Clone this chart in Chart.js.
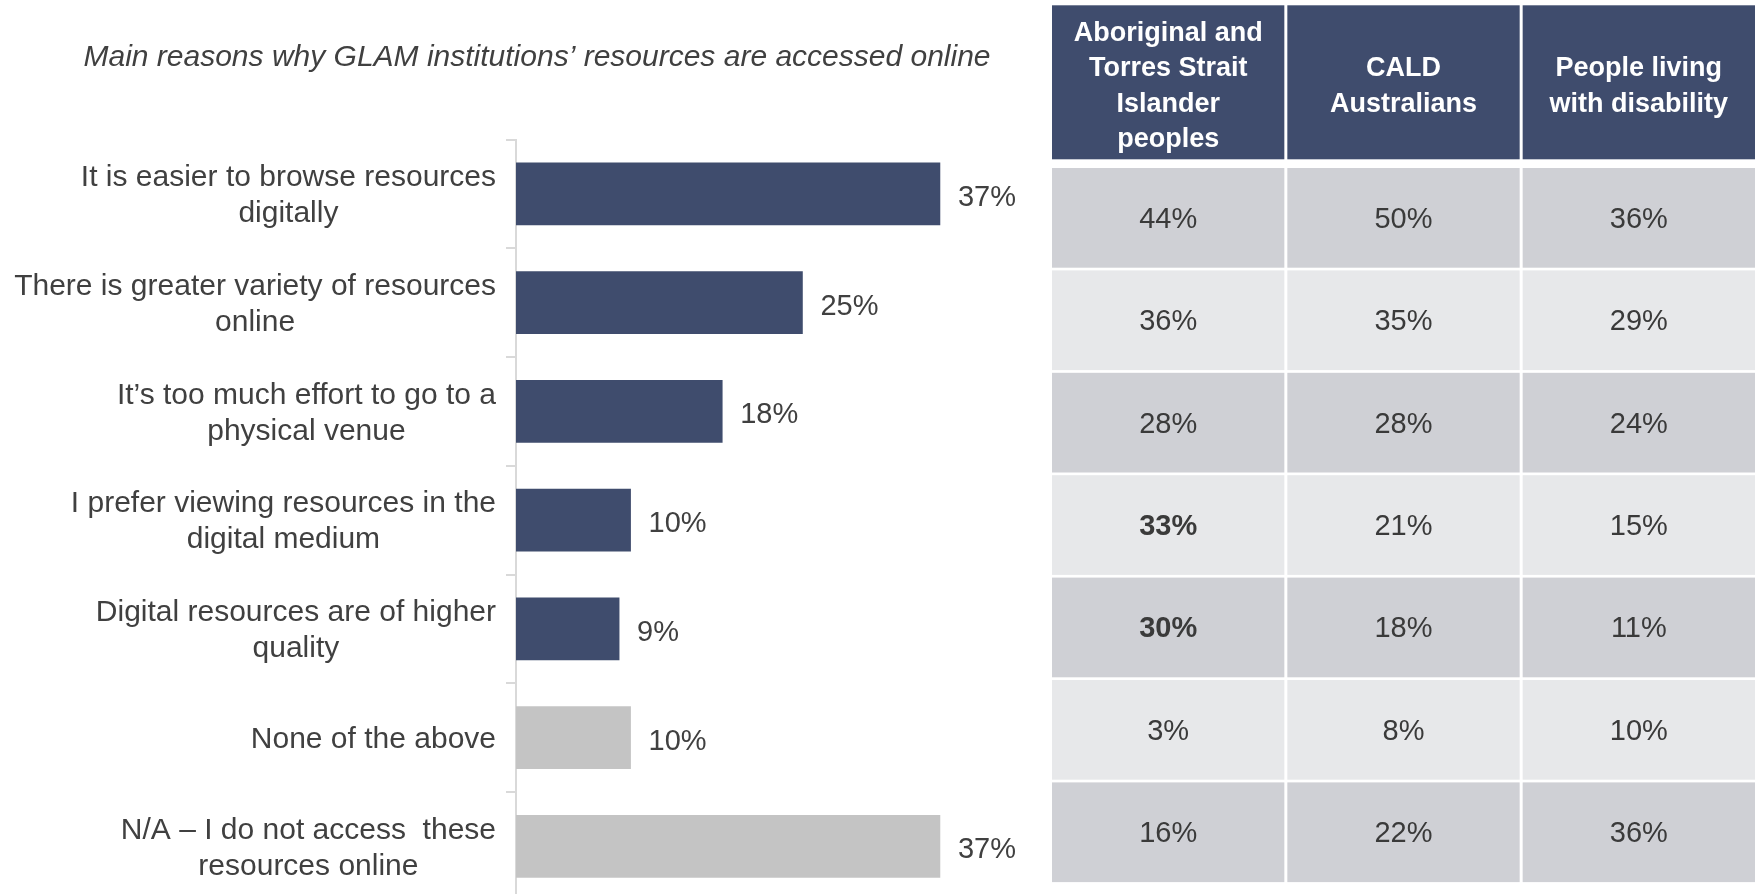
<!DOCTYPE html>
<html>
<head>
<meta charset="utf-8">
<title>GLAM online access</title>
<script src="https://cdn.jsdelivr.net/npm/chart.js@4.4.1/dist/chart.umd.min.js"></script>
<style>
  html, body { margin: 0; padding: 0; background: #fff; overflow: hidden; }
  #wrap { position: relative; width: 1758px; height: 894px; overflow: hidden; }
  #barChart { position: absolute; left: 0; top: 0; }
  #tableChart { position: absolute; left: 1040px; top: 0; }
</style>
</head>
<body>
<div id="wrap">
  <canvas id="barChart" width="1074" height="910"></canvas>
  <canvas id="tableChart" width="718" height="894"></canvas>
</div>
<script>
// reasons (one entry per row, split into display lines)
const reasons = [
  ['It is easier to browse resources', 'digitally'],
  ['There is greater variety of resources', 'online'],
  ['It\u2019s too much effort to go to a', 'physical venue'],
  ['I prefer viewing resources in the', 'digital medium'],
  ['Digital resources are of higher', 'quality'],
  ['None of the above'],
  ['N/A \u2013 I do not access  these', 'resources online']
];
const totals = [37, 25, 18, 10, 9, 10, 37];

// breakdown by group
const groups = [
  ['Aboriginal and', 'Torres Strait', 'Islander', 'peoples'],
  ['CALD', 'Australians'],
  ['People living', 'with disability']
];
const aboriginal = [44, 36, 28, 33, 30, 3, 16];
const cald = [50, 35, 28, 21, 18, 8, 22];
const disability = [36, 29, 24, 15, 11, 10, 36];
const boldCells = [[3, 0], [4, 0]]; // [row, group]

const title = 'Main reasons why GLAM institutions\u2019 resources are accessed online';

const FONT = "'Liberation Sans', Arial, sans-serif";
const NAVY = '#3f4c6d';
const GREY = '#c4c4c4';
const TEXT = '#404040';

Chart.defaults.font.family = FONT;
Chart.defaults.color = TEXT;

const rowKeys = reasons.map(r => r.join(' '));
const groupKeys = groups.map(g => g.join(' '));

// category labels: right-aligned blocks, lines centred within each block
const reasonLabels = {
  id: 'reasonLabels',
  afterDraw(chart) {
    const ctx = chart.ctx;
    const yAxis = chart.scales.y;
    const right = yAxis.right - 20;
    ctx.save();
    ctx.font = '30px ' + FONT;
    ctx.fillStyle = TEXT;
    ctx.textAlign = 'center';
    ctx.textBaseline = 'middle';
    reasons.forEach((lines, i) => {
      const w = Math.max(...lines.map(s => ctx.measureText(s).width));
      const cx = right - w / 2;
      const cy = yAxis.getPixelForValue(i) + 2;
      lines.forEach((s, k) => {
        ctx.fillText(s, cx, cy + (k - (lines.length - 1) / 2) * 36);
      });
    });
    ctx.restore();
  }
};

// percentage after each bar
const barValues = {
  id: 'barValues',
  afterDatasetsDraw(chart) {
    const ctx = chart.ctx;
    const meta = chart.getDatasetMeta(0);
    ctx.save();
    ctx.font = '29px ' + FONT;
    ctx.fillStyle = TEXT;
    ctx.textAlign = 'left';
    ctx.textBaseline = 'middle';
    meta.data.forEach((bar, i) => {
      ctx.fillText(totals[i] + '%', bar.x + 18, bar.y + 4);
    });
    ctx.restore();
  }
};

new Chart(document.getElementById('barChart'), {
  type: 'bar',
  data: {
    labels: rowKeys,
    datasets: [{
      data: totals,
      backgroundColor: ctx => ctx.dataIndex < 5 ? NAVY : GREY,
      borderWidth: 0,
      barThickness: 62
    }]
  },
  options: {
    indexAxis: 'y',
    responsive: false,
    devicePixelRatio: 1,
    animation: false,
    layout: { padding: { left: 0, right: 0, top: 0, bottom: 9.25 } },
    scales: {
      x: { display: false, min: 0, max: 48.7 },
      y: {
        type: 'category',
        ticks: { display: false },
        grid: {
          offset: true,
          drawOnChartArea: false,
          drawTicks: true,
          tickLength: 10,
          color: '#d9d9d9',
          lineWidth: 2
        },
        border: { display: true, color: '#d9d9d9', width: 2 },
        afterFit: s => { s.width = 516; }
      }
    },
    plugins: {
      legend: { display: false },
      tooltip: { enabled: false },
      title: {
        display: true,
        text: title,
        color: TEXT,
        font: { size: 30, style: 'italic', weight: 'normal', lineHeight: 1.2 },
        padding: { top: 40, bottom: 63.5 }
      }
    }
  },
  plugins: [reasonLabels, barValues]
});

// table: header cells plus one shaded cell per row/group
const tableCells = {
  id: 'tableCells',
  beforeDatasetsDraw(chart) {
    const ctx = chart.ctx;
    const { x, y } = chart.scales;
    const bw = (x.right - x.left) / groups.length;
    const bh = (y.bottom - y.top) / reasons.length;
    ctx.save();

    groups.forEach((lines, c) => {
      const left = x.getPixelForValue(c) - bw / 2;
      const top = y.top - 162.7;
      const h = 154;
      ctx.fillStyle = NAVY;
      ctx.fillRect(left, top, bw - 3, h);
      ctx.fillStyle = '#ffffff';
      ctx.font = 'bold 27px ' + FONT;
      ctx.textAlign = 'center';
      ctx.textBaseline = 'middle';
      const cx = left + (bw - 3) / 2;
      const cy = top + h / 2 + 4;
      lines.forEach((s, k) => {
        ctx.fillText(s, cx, cy + (k - (lines.length - 1) / 2) * 35.5);
      });
    });

    chart.data.datasets.forEach((ds, c) => {
      ds.data.forEach((pt, r) => {
        const left = x.getPixelForValue(pt.x) - bw / 2;
        const top = y.getPixelForValue(pt.y) - bh / 2;
        ctx.fillStyle = r % 2 === 0 ? '#cfd0d5' : '#e7e8ea';
        ctx.fillRect(left, top, bw - 3, bh - 2.7);
        const bold = boldCells.some(b => b[0] === r && b[1] === c);
        ctx.font = (bold ? 'bold ' : '') + '29px ' + FONT;
        ctx.fillStyle = '#3a3a3a';
        ctx.textAlign = 'center';
        ctx.textBaseline = 'middle';
        ctx.fillText(pt.v + '%', left + (bw - 3) / 2, top + (bh - 2.7) / 2 + 2);
      });
    });
    ctx.restore();
  }
};

const groupValues = [aboriginal, cald, disability];

new Chart(document.getElementById('tableChart'), {
  type: 'scatter',
  data: {
    datasets: groupValues.map((vals, c) => ({
      label: groupKeys[c],
      data: vals.map((v, r) => ({ x: c, y: r, v: v })),
      pointRadius: 0,
      pointHoverRadius: 0
    }))
  },
  options: {
    responsive: false,
    devicePixelRatio: 1,
    animation: false,
    layout: { padding: { left: 12, right: 0, top: 168, bottom: 9.2 } },
    scales: {
      x: { type: 'category', labels: groupKeys, offset: true, display: false },
      y: { type: 'category', labels: rowKeys, offset: true, display: false }
    },
    plugins: {
      legend: { display: false },
      tooltip: { enabled: false }
    }
  },
  plugins: [tableCells]
});
</script>
</body>
</html>
